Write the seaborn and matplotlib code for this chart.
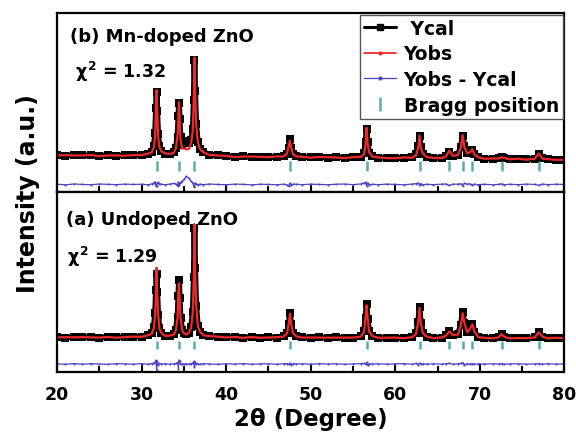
import numpy as np
import pandas as pd
import seaborn as sns
import matplotlib.pyplot as plt
from matplotlib.lines import Line2D
from matplotlib.ticker import MultipleLocator

sns.set_style("ticks")
plt.rcParams['font.family'] = ['DejaVu Sans']
plt.rcParams['font.weight'] = 'bold'
plt.rcParams['text.color'] = 'black'
plt.rcParams['axes.labelcolor'] = 'black'
plt.rcParams['xtick.color'] = 'black'
plt.rcParams['mathtext.fontset'] = 'custom'
plt.rcParams['mathtext.rm'] = 'DejaVu Sans:bold'
plt.rcParams['mathtext.it'] = 'DejaVu Sans:bold'
plt.rcParams['mathtext.bf'] = 'DejaVu Sans:bold'

# 2theta grid (deg), shared by both patterns
two_theta = [
    20.0, 21.0, 22.0, 23.0, 24.0, 25.0, 26.0, 27.0, 28.0, 29.0,
    30.0, 30.8, 31.2, 31.45, 31.6, 31.7, 31.77, 31.85, 31.95, 32.1,
    32.35, 32.8, 33.3, 33.8, 34.05, 34.25, 34.35, 34.42, 34.5, 34.6,
    34.8, 35.0, 35.3, 35.6, 35.85, 36.05, 36.17, 36.25, 36.33, 36.45,
    36.65, 36.9, 37.3, 38.0, 39.0, 40.0, 41.0, 42.0, 43.0, 44.0,
    45.0, 46.0, 46.8, 47.2, 47.4, 47.54, 47.68, 47.9, 48.3, 49.0,
    50.0, 51.0, 52.0, 53.0, 54.0, 55.0, 55.9, 56.3, 56.48, 56.6,
    56.72, 56.9, 57.3, 58.0, 59.0, 60.0, 61.0, 62.0, 62.45, 62.72,
    62.86, 63.0, 63.25, 63.7, 64.5, 65.5, 66.0, 66.38, 66.8, 67.4,
    67.75, 67.96, 68.15, 68.5, 68.85, 69.1, 69.35, 69.8, 70.5, 71.5,
    72.2, 72.56, 72.9, 73.5, 74.5, 75.5, 76.5, 76.95, 77.4, 78.0,
    79.0, 80.0,
]

# (b) Mn-doped ZnO
ycal_b = [
    37.2, 36.8, 37.4, 36.9, 37.1, 36.6, 37.0, 36.7, 36.9, 37.2,
    37.5, 38.5, 40.5, 46.5, 59.0, 84.0, 100.0, 81.0, 58.0, 46.0,
    41.0, 38.8, 38.6, 40.5, 44.5, 55.0, 76.0, 89.0, 73.0, 55.0,
    47.0, 49.0, 51.0, 49.5, 52.0, 63.0, 92.0, 132.0, 101.0, 68.0,
    50.0, 43.5, 40.0, 37.8, 36.9, 36.2, 35.6, 35.9, 35.4, 35.7,
    35.2, 35.6, 36.2, 38.5, 44.5, 53.0, 44.0, 38.5, 36.2, 35.3,
    35.0, 35.4, 34.8, 35.1, 34.7, 35.0, 35.8, 39.5, 50.0, 63.0,
    50.0, 39.5, 36.0, 34.8, 34.5, 34.2, 34.6, 35.0, 38.0, 46.5,
    56.0, 45.5, 38.5, 35.6, 34.2, 34.6, 36.6, 40.5, 36.8, 37.5,
    45.5, 56.0, 46.5, 39.5, 40.5, 42.5, 38.0, 35.0, 33.8, 33.6,
    33.9, 35.8, 34.0, 33.3, 33.5, 33.0, 33.6, 38.0, 34.2, 33.0,
    32.8, 32.6,
]
resid_b = [
    0.3, -0.4, 0.5, 0.0, -0.3, 0.4, 0.1, -0.2, 0.3, 0.0,
    0.2, -0.3, 0.6, 1.5, 2.5, -1.5, -2.0, 1.0, 2.0, 0.8,
    0.2, -0.3, 0.4, 1.0, 0.5, -1.5, 2.0, -1.0, 1.0, 2.0,
    3.5, 5.0, 8.0, 6.0, 3.0, 1.5, -1.5, -2.5, 1.5, 0.5,
    -0.5, 0.3, -0.2, 0.4, 0.0, -0.3, 0.3, 0.1, -0.4, 0.2,
    0.0, -0.3, 0.3, -0.5, -2.0, 1.5, -1.0, 0.3, 0.2, -0.2,
    0.3, 0.0, -0.3, 0.2, 0.4, -0.2, 0.5, 1.5, 2.0, -1.5,
    1.0, -0.5, 0.2, -0.2, 0.3, 0.0, -0.3, 0.4, 0.8, 1.5,
    -1.0, 0.8, -0.3, 0.2, -0.2, 0.3, 0.5, -1.0, 0.3, 0.2,
    0.8, -1.2, 1.0, 0.4, 0.5, -0.6, 0.3, -0.2, 0.2, -0.3,
    0.1, 0.6, -0.3, 0.2, -0.2, 0.3, 0.0, -0.8, 0.4, -0.2,
    0.2, 0.0,
]

# (a) Undoped ZnO
ycal_a = [
    34.8, 34.4, 35.0, 34.6, 34.9, 34.3, 34.7, 34.5, 34.9, 35.1,
    35.4, 36.5, 38.5, 45.0, 59.0, 82.0, 98.0, 80.0, 57.0, 44.0,
    38.5, 36.2, 36.0, 37.5, 42.0, 55.0, 76.0, 92.0, 74.0, 54.0,
    42.0, 38.5, 37.5, 39.0, 44.5, 60.0, 95.0, 144.0, 104.0, 66.0,
    46.0, 40.0, 37.0, 35.8, 35.0, 34.6, 34.9, 34.3, 34.7, 34.2,
    34.6, 34.4, 35.5, 39.0, 48.0, 59.0, 47.5, 39.0, 35.5, 34.5,
    34.2, 34.6, 34.1, 34.5, 34.0, 34.4, 35.5, 40.5, 54.0, 68.0,
    53.0, 40.5, 35.8, 34.3, 34.0, 34.4, 33.9, 34.6, 38.5, 50.0,
    65.0, 49.0, 39.0, 35.3, 34.0, 34.3, 36.5, 41.0, 36.5, 37.5,
    47.0, 60.0, 48.5, 40.0, 43.0, 48.0, 40.0, 35.0, 34.0, 33.8,
    34.5, 38.0, 34.8, 33.7, 34.0, 33.6, 34.5, 40.0, 35.0, 33.8,
    34.0, 33.7,
]
resid_a = [
    0.2, -0.3, 0.4, -0.2, 0.3, 0.0, -0.3, 0.3, 0.1, -0.2,
    0.3, -0.2, 0.4, 1.0, 2.0, 3.5, -6.0, 2.5, -1.0, 0.5,
    -0.2, 0.3, -0.3, 0.2, 0.5, 1.5, -4.5, 3.5, 2.5, -0.5,
    0.3, -0.2, 0.2, -0.3, 0.4, 1.0, 2.5, -3.5, 1.5, -0.3,
    0.2, -0.2, 0.3, 0.0, -0.3, 0.2, -0.1, 0.3, -0.2, 0.1,
    0.2, -0.3, 0.2, 0.4, -0.5, 1.0, -0.8, 0.3, 0.0, 0.2,
    -0.2, 0.3, -0.1, 0.2, -0.3, 0.1, 0.3, 0.6, -0.5, 1.5,
    -1.2, 0.3, 0.0, 0.2, -0.2, 0.1, 0.3, -0.2, 0.5, -0.6,
    1.0, -0.5, 0.2, -0.1, 0.2, -0.2, 0.3, 0.6, -0.3, 0.2,
    0.5, 1.2, -1.0, 0.3, -0.2, 0.4, -0.3, 0.2, -0.1, 0.2,
    0.0, 0.3, -0.2, 0.1, 0.2, -0.2, 0.1, 0.4, -0.3, 0.2,
    -0.1, 0.1,
]

# ZnO Bragg reflections
bragg_pos = [31.77, 34.42, 36.25, 47.54, 56.60, 62.86, 66.38, 67.96, 69.10, 72.56, 76.95]

panels = [
    ("(b) Mn-doped ZnO", "1.32", ycal_b, resid_b),
    ("(a) Undoped ZnO", "1.29", ycal_a, resid_a),
]

BLACK = "#000000"
RED = "#f0282a"
BLUE = "#4a44c4"
TEAL = "#58b0a4"
DIFF_OFFSET = 8

fig, axes = plt.subplots(2, 1, figsize=(5.76, 4.35), dpi=100, sharex=True)
fig.subplots_adjust(left=0.099, right=0.980, bottom=0.1425, top=0.968, hspace=0)

tick_span = [(21, 31), (23, 31)]
title_pos = [(0.026, 0.844), (0.018, 0.822)]
chi_pos = [(0.036, 0.642), (0.020, 0.611)]

for i, (ax, (title, chi, ycal, resid)) in enumerate(zip(axes, panels)):
    df = pd.DataFrame({"x": two_theta, "ycal": ycal, "resid": resid})
    df["yobs"] = df["ycal"] - df["resid"]
    df["diff"] = df["resid"] + DIFF_OFFSET

    sns.lineplot(data=df, x="x", y="ycal", ax=ax, color=BLACK, lw=4.2,
                 marker="s", markersize=5.5, markeredgewidth=0, sort=False, estimator=None)
    sns.lineplot(data=df, x="x", y="yobs", ax=ax, color=RED, lw=1.6, sort=False, estimator=None)
    sns.lineplot(data=df, x="x", y="diff", ax=ax, color=BLUE, lw=0.9,
                 marker="o", markersize=1.5, markeredgewidth=0, sort=False, estimator=None)
    ax.vlines(bragg_pos, tick_span[i][0], tick_span[i][1], color=TEAL, lw=1.8)

    ax.set_xlim(20, 80)
    ax.set_ylim(0, 179)
    ax.set_yticks([])
    ax.set_ylabel("")
    ax.set_xlabel("")
    for sp in ax.spines.values():
        sp.set_linewidth(1.6)
        sp.set_color("black")
    ax.xaxis.set_major_locator(MultipleLocator(10))
    ax.xaxis.set_minor_locator(MultipleLocator(5))
    ax.tick_params(axis="x", which="major", direction="in", length=6, width=1.5, top=False)
    ax.tick_params(axis="x", which="minor", direction="in", length=4, width=1.5, top=False)

    ax.text(*title_pos[i], title, transform=ax.transAxes, fontsize=13,
            fontweight="bold", va="baseline")
    ax.text(*chi_pos[i], r"$\chi^2$ = " + chi, transform=ax.transAxes,
            fontsize=12.5, fontweight="bold", va="baseline")

axes[0].tick_params(axis="x", labelbottom=False)
axes[1].tick_params(axis="x", labelsize=12.5, pad=9)
for lab in axes[1].get_xticklabels():
    lab.set_fontweight("bold")
axes[1].set_xlabel("2θ (Degree)", fontsize=16.5, fontweight="bold", labelpad=3)
fig.text(0.049, 0.556, "Intensity (a.u.)", rotation=90, fontsize=17,
         fontweight="bold", ha="center", va="center")

handles = [
    Line2D([], [], color=BLACK, lw=2.2, marker="s", markersize=4.5),
    Line2D([], [], color=RED, lw=1.3, marker="o", markersize=2),
    Line2D([], [], color=BLUE, lw=0.9, marker="o", markersize=2),
    Line2D([], [], color=TEAL, lw=0, marker="|", markersize=10, markeredgewidth=1.8),
]
labels = [" Ycal", "Yobs", "Yobs - Ycal", "Bragg position"]
leg = axes[0].legend(handles, labels, loc="upper right", borderaxespad=0.1,
                     prop={"weight": "bold", "size": 13.5}, frameon=True, fancybox=False,
                     framealpha=1, edgecolor="#555555", handlelength=1.7,
                     handletextpad=0.4, labelspacing=0.36, borderpad=0.2)
leg.get_frame().set_linewidth(1.0)

fig.savefig("out.png", dpi=100)
